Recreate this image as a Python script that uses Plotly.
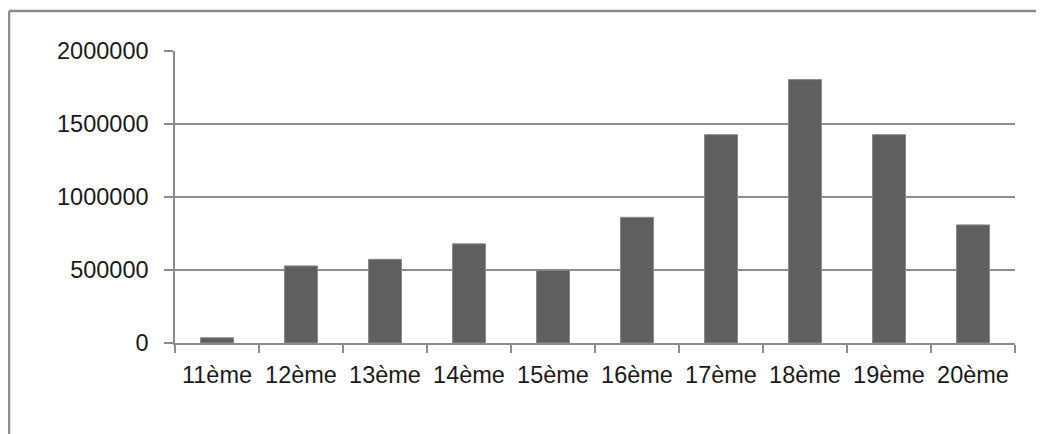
import plotly.graph_objects as go

categories = ["11ème", "12ème", "13ème", "14ème", "15ème", "16ème", "17ème", "18ème", "19ème", "20ème"]
values = [36000, 528000, 573000, 679000, 498000, 861000, 1427000, 1804000, 1427000, 809000]
y_ticks = [0, 500000, 1000000, 1500000, 2000000]
y_tick_labels = ["0", "500000", "1000000", "1500000", "2000000"]

# page body has an 8px margin; compensate so the plot lands where the reference has it
OFF = 8
W, H = 1044 - OFF, 434 - OFF
L, R, T, B = 175 - OFF, 29, 51 - OFF, 91
pw, ph = W - L - R, H - T - B

FONT = dict(family="Liberation Sans, Arial, sans-serif", size=23.5, color="#1a1a1a")
GRID = "#8c8c8c"

fig = go.Figure(go.Bar(
    x=categories, y=values,
    marker=dict(color="#5f5f5f", line=dict(color="#8a8a8a", width=1)),
    hoverinfo="skip",
))

# screen-pixel -> paper coordinates
def px_x(p):
    return (p - 175) / pw

def px_y(p):
    return (343 - p) / ph

fig.update_layout(
    width=W, height=H,
    margin=dict(l=L, r=R, t=T, b=B, pad=0),
    paper_bgcolor="white", plot_bgcolor="white",
    bargap=0.607,
    showlegend=False,
    font=FONT,
    xaxis=dict(
        type="category",
        showgrid=False,
        showline=True, linecolor=GRID, linewidth=1.5,
        ticks="outside", tickson="boundaries", ticklen=8, tickcolor=GRID, tickwidth=1.5,
        tickfont=FONT,
        ticklabelstandoff=10,
        range=[-0.5, len(categories) - 0.5],
    ),
    yaxis=dict(
        range=[0, 2000000],
        tickvals=y_ticks, ticktext=y_tick_labels,
        showgrid=True, gridcolor=GRID, gridwidth=1.5,
        zeroline=False,
        showline=True, linecolor=GRID, linewidth=1.5,
        ticks="outside", ticklen=9, tickcolor=GRID, tickwidth=1.5,
        tickfont=FONT,
        ticklabelstandoff=11,
    ),
    shapes=[
        dict(type="line", xref="paper", yref="paper",
             x0=px_x(9), x1=px_x(9), y0=px_y(460), y1=px_y(11),
             line=dict(color="#8c8c8c", width=2.5)),
        dict(type="line", xref="paper", yref="paper",
             x0=px_x(9), x1=px_x(1060), y0=px_y(11), y1=px_y(11),
             line=dict(color="#8c8c8c", width=2.5)),
    ],
)

fig.write_html("out.html")
